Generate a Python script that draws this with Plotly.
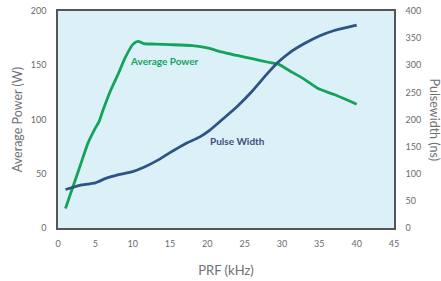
import plotly.graph_objects as go

prf_power = [1, 2, 3, 4, 5, 5.5, 6, 7, 8, 9, 10, 10.7, 11.5, 13, 15, 18, 20, 22, 24, 26, 28, 29.5, 31, 33, 35, 37, 40]
avg_power = [18, 38, 58, 78, 92, 98, 108, 126, 141, 157, 169, 172, 170, 169.5, 169, 168, 166, 162, 159, 156, 153, 151, 145, 137, 128, 123, 114]

prf_pw = [1, 2, 3, 4, 5, 5.5, 6.5, 8, 10, 11.5, 13.5, 15, 17, 19, 20.3, 22, 24, 26, 28, 29.5, 31, 33, 35, 37, 40]
pulse_width = [71, 75, 79, 81, 83, 86, 92, 98, 104, 112, 126, 139, 155, 168, 180, 200, 224, 252, 284, 306, 323, 340, 354, 364, 374]

x_ticks = [0, 5, 10, 15, 20, 25, 30, 35, 40, 45]
y1_ticks = [0, 50, 100, 150, 200]
y2_ticks = [0, 50, 100, 150, 200, 250, 300, 350, 400]

GREEN = "#13a45a"
BLUE = "#2d5483"
FONT = "Lato"
TICKC = "#6a6a6a"
TITLEC = "#6f7073"

fig = go.Figure()
fig.add_trace(go.Scatter(x=prf_power, y=avg_power, mode="lines",
                         line=dict(color=GREEN, width=2.8, shape="spline", smoothing=0.6),
                         showlegend=False))
fig.add_trace(go.Scatter(x=prf_pw, y=pulse_width, mode="lines", yaxis="y2",
                         line=dict(color=BLUE, width=2.8, shape="spline", smoothing=0.6),
                         showlegend=False))

fig.add_annotation(x=14.3, y=154, text="<b>Average Power</b>", showarrow=False,
                   font=dict(family=FONT, size=10, color=GREEN))
fig.add_annotation(x=24.1, y=80, text="<b>Pulse Width</b>", showarrow=False,
                   font=dict(family=FONT, size=10, color="#3b4f7c"))
fig.add_annotation(xref="paper", yref="paper", x=1.0, xanchor="center", yanchor="middle",
                   xshift=40, y=0.5,
                   text="Pulsewidth (ns)", textangle=90, showarrow=False,
                   font=dict(family=FONT, size=12.5, color=TITLEC))

fig.update_layout(
    width=441, height=281,
    margin=dict(l=58, r=47, t=11, b=53, autoexpand=False),
    paper_bgcolor="white",
    plot_bgcolor="#dcf0f8",
    font=dict(family=FONT, color=TICKC, size=9),
    xaxis=dict(range=[0, 45], tickvals=x_ticks, showgrid=False, zeroline=False,
               showline=True, linecolor="#555", linewidth=1.5, mirror=True,
               ticks="", ticklabelstandoff=6, automargin=False, ticklabeloverflow="allow",
               title=dict(text="PRF (kHz)", font=dict(family=FONT, size=13, color=TITLEC), standoff=18)),
    yaxis=dict(range=[0, 200], tickvals=y1_ticks, showgrid=False, zeroline=False,
               showline=True, linecolor="#555", linewidth=1.5,
               ticks="", ticklabelstandoff=8, automargin=False, ticklabeloverflow="allow",
               title=dict(text="Average Power (W)", font=dict(family=FONT, size=12.5, color=TITLEC), standoff=5)),
    yaxis2=dict(range=[0, 400], tickvals=y2_ticks, overlaying="y", side="right",
                showgrid=False, zeroline=False, showline=True, linecolor="#555", linewidth=1.5,
                ticks="", ticklabelstandoff=8, automargin=False, ticklabeloverflow="allow"),
)

fig.write_html("out.html", config={"displayModeBar": False},
               post_script="document.body.style.margin='0';")
